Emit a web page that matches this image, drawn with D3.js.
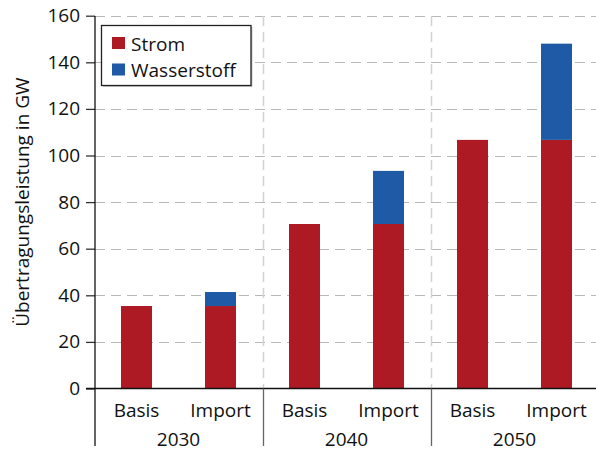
<!DOCTYPE html>
<html>
<head>
<meta charset="utf-8">
<script src="https://cdn.jsdelivr.net/npm/d3@7"></script>
<style>
  html, body { margin: 0; padding: 0; background: #fff; }
  svg { display: block; font-family: "Open Sans", "Noto Sans", sans-serif; }
</style>
</head>
<body>
<svg id="chart" width="596" height="451"></svg>
<script>
// ---- data ----
const years = ["2030", "2040", "2050"];
const scenarios = ["Basis", "Import"];
const categories = ["2030 Basis", "2030 Import", "2040 Basis", "2040 Import", "2050 Basis", "2050 Import"];
const strom = [35.4, 35.4, 70.6, 70.6, 106.7, 106.7];
const wasserstoff = [0, 6.0, 0, 22.8, 0, 41.3];
const yTicks = [0, 20, 40, 60, 80, 100, 120, 140, 160];
const seriesNames = ["Strom", "Wasserstoff"];
const colors = ["#ad1a24", "#1e5aa5"];
const yTitle = "Übertragungsleistung in GW";

// ---- layout ----
const plotL = 94.5, plotR = 598.5, plotT = 15.7, plotB = 388.5;
const svg = d3.select("#chart");
const fontSize = 19;

const x = d3.scaleBand().domain(categories).range([plotL, plotR]).paddingInner(0.631).paddingOuter(0.3155);
const xg = d3.scaleBand().domain(years).range([plotL, plotR]);
const y = d3.scaleLinear().domain([0, 160]).range([plotB, plotT]);

// horizontal gridlines
svg.append("g")
  .selectAll("line").data(yTicks.filter(d => d > 0)).join("line")
  .attr("x1", 95).attr("x2", 596)
  .attr("y1", d => Math.round(y(d)) + 0.5).attr("y2", d => Math.round(y(d)) + 0.5)
  .attr("stroke", "#b8b8b8").attr("stroke-width", 1.2).attr("stroke-dasharray", "10,6");

// vertical group separators inside plot (dashed)
svg.append("g")
  .selectAll("line").data(years.slice(1)).join("line")
  .attr("x1", d => Math.round(xg(d)) + 0.5).attr("x2", d => Math.round(xg(d)) + 0.5)
  .attr("y1", Math.round(plotT)).attr("y2", plotB)
  .attr("stroke", "#d2d2d2").attr("stroke-width", 1.5).attr("stroke-dasharray", "10,6");

// stacked bars
const stackData = categories.map((c, i) => ({ cat: c, Strom: strom[i], Wasserstoff: wasserstoff[i] }));
const stacked = d3.stack().keys(seriesNames)(stackData);
svg.append("g")
  .selectAll("g").data(stacked).join("g")
  .attr("fill", (d, i) => colors[i])
  .selectAll("rect").data(d => d).join("rect")
  .attr("x", d => x(d.data.cat))
  .attr("width", x.bandwidth())
  .attr("y", d => y(d[1]))
  .attr("height", d => y(d[0]) - y(d[1]));

// y axis
const yAxis = svg.append("g")
  .attr("transform", `translate(${95},0)`)
  .call(d3.axisLeft(y).tickValues(yTicks).tickSize(9).tickPadding(6).tickSizeOuter(0));
yAxis.select(".domain").remove();
yAxis.selectAll(".tick line").attr("stroke", "#333").attr("stroke-width", 1.3);
yAxis.selectAll(".tick text").attr("font-size", fontSize).attr("fill", "#111")
  .attr("font-family", "'Open Sans', 'Noto Sans', sans-serif");

// y axis line (extends below into category area)
svg.append("line").attr("x1", 95).attr("x2", 95).attr("y1", Math.round(plotT)).attr("y2", 446)
  .attr("stroke", "#111").attr("stroke-width", 1.3);

// x axis baseline
svg.append("line").attr("x1", 86).attr("x2", 596).attr("y1", plotB).attr("y2", plotB)
  .attr("stroke", "#111").attr("stroke-width", 1.3);

// group separator lines below the axis
svg.append("g")
  .selectAll("line").data(years.slice(1)).join("line")
  .attr("x1", d => Math.round(xg(d)) + 0.5).attr("x2", d => Math.round(xg(d)) + 0.5)
  .attr("y1", plotB).attr("y2", 446)
  .attr("stroke", "#666").attr("stroke-width", 1.3);

// scenario labels
svg.append("g")
  .selectAll("text").data(categories).join("text")
  .attr("x", d => x(d) + x.bandwidth() / 2)
  .attr("y", 416.5)
  .attr("text-anchor", "middle")
  .attr("font-size", fontSize).attr("fill", "#111")
  .text(d => d.split(" ")[1]);

// year labels
svg.append("g")
  .selectAll("text").data(years).join("text")
  .attr("x", d => xg(d) + xg.bandwidth() / 2)
  .attr("y", 446)
  .attr("text-anchor", "middle")
  .attr("font-size", fontSize).attr("fill", "#111")
  .text(d => d);

// y title
svg.append("text")
  .attr("transform", `translate(29,${(plotT + plotB) / 2}) rotate(-90)`)
  .attr("text-anchor", "middle")
  .attr("font-size", fontSize).attr("fill", "#111")
  .text(yTitle);

// legend
const lg = svg.append("g");
lg.append("rect").attr("x", 103).attr("y", 27).attr("width", 149.5).attr("height", 60)
  .attr("fill", "#c8c8c8");
lg.append("rect").attr("x", 101.5).attr("y", 25.5).attr("width", 149.5).attr("height", 60)
  .attr("fill", "#fff").attr("stroke", "#222").attr("stroke-width", 1.3);
const items = lg.selectAll("g.item").data(seriesNames).join("g").attr("class", "item")
  .attr("transform", (d, i) => `translate(0,${i * 26.5})`);
items.append("rect").attr("x", 112).attr("y", 37).attr("width", 13).attr("height", 12)
  .attr("fill", (d, i) => colors[i]);
items.append("text").attr("x", 131).attr("y", 50.5)
  .attr("font-size", fontSize).attr("fill", "#111").text(d => d);
</script>
</body>
</html>
